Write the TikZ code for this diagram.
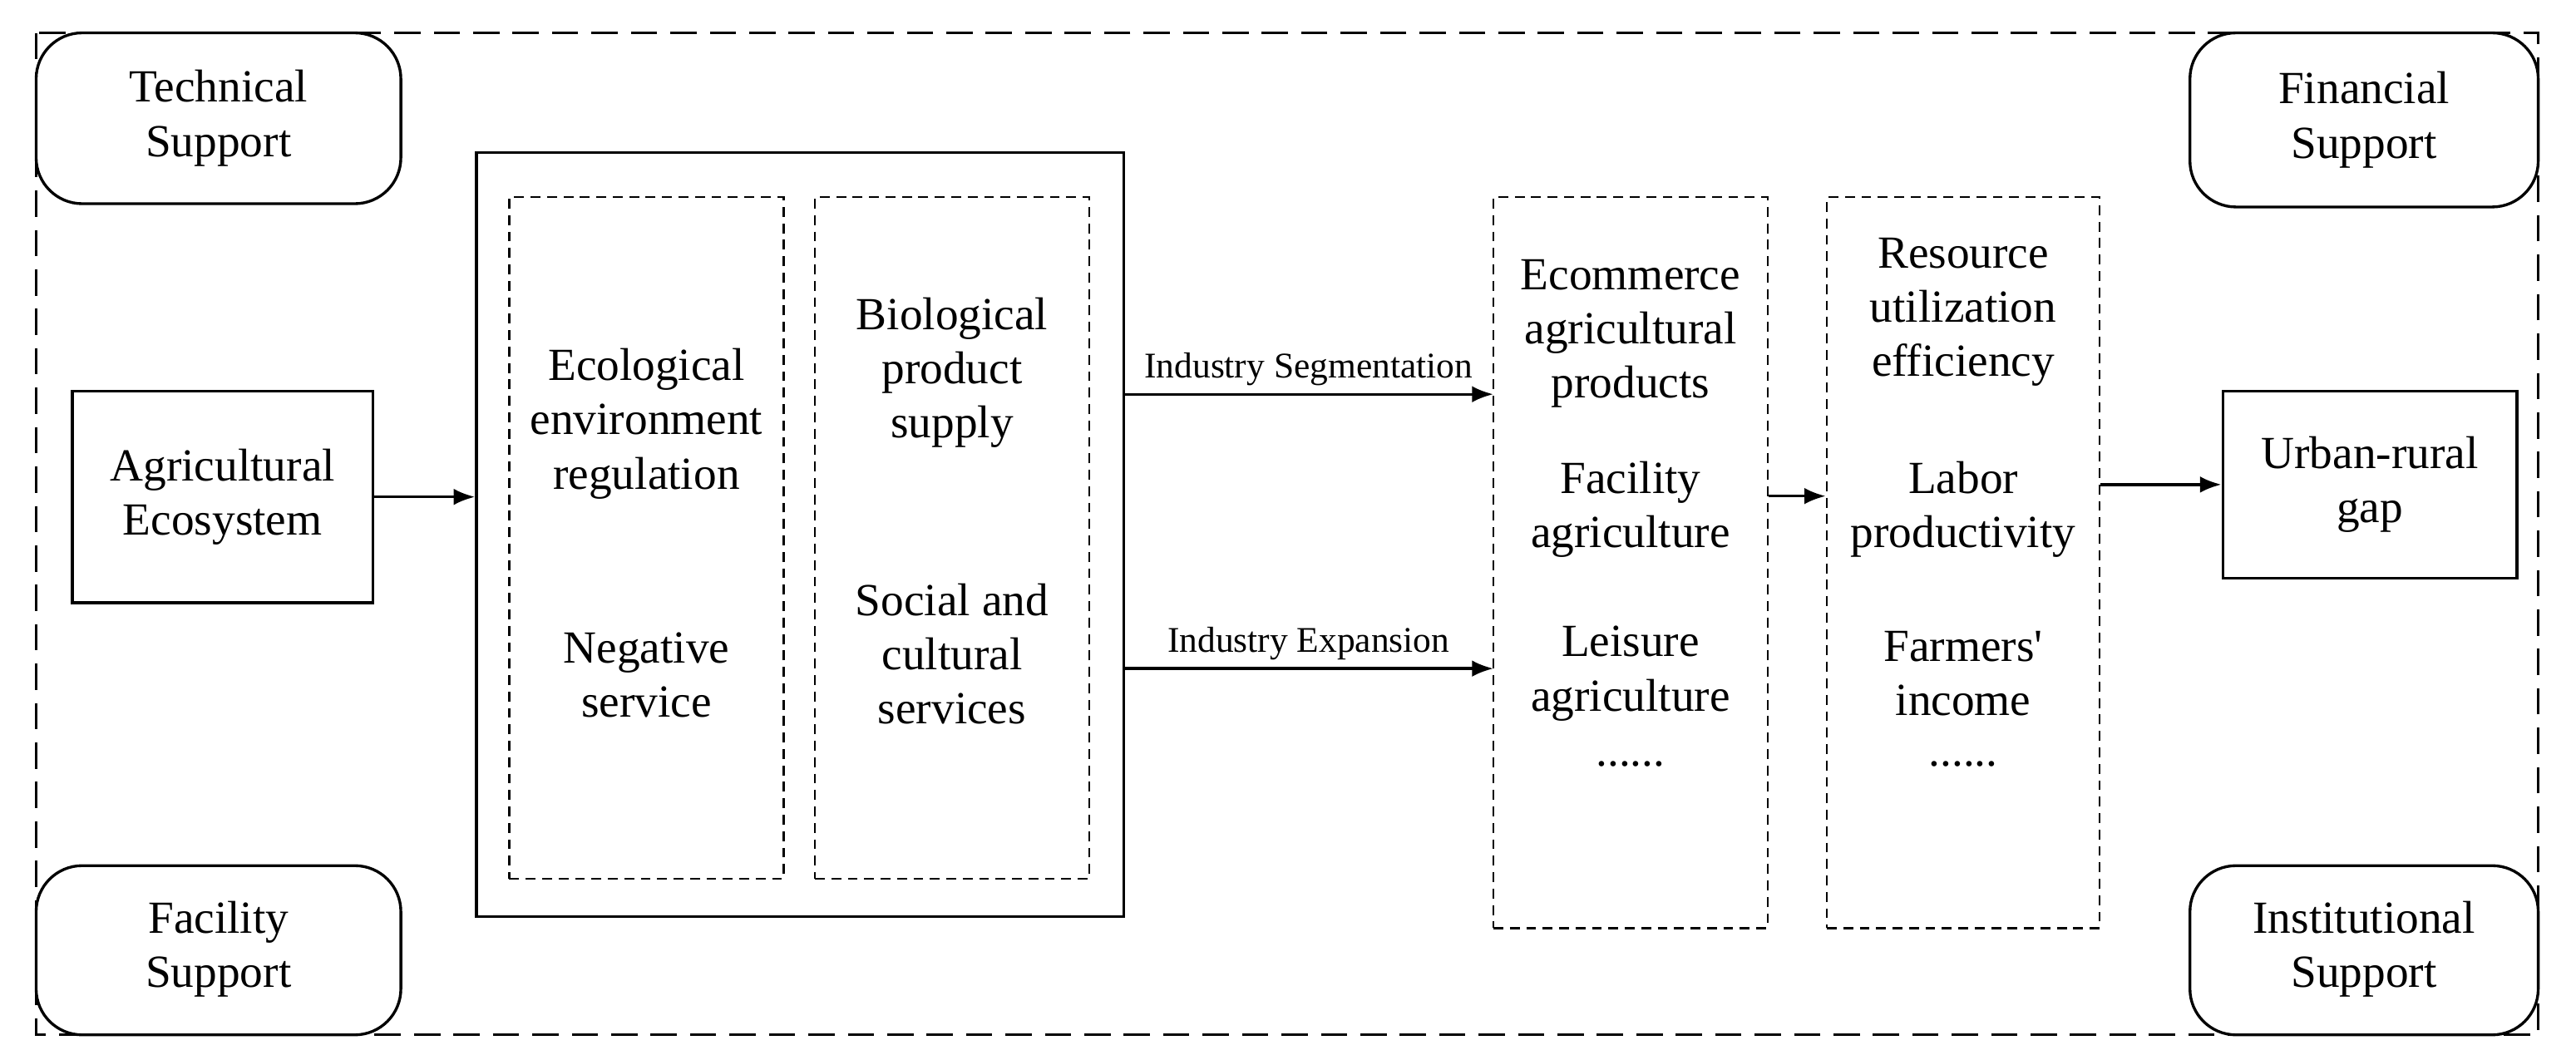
\documentclass[tikz,border=0pt]{standalone}
\usepackage{fontspec}
\setmainfont{Liberation Serif}
\usetikzlibrary{arrows.meta}
\begin{document}
\begin{tikzpicture}[x=1pt,y=-1pt,
  txt/.style={font=\fontsize{28}{33}\selectfont,align=center},
  sup/.style={draw,line width=1.7pt,rounded corners=28pt,fill=white},
  solidbox/.style={draw,line width=1.7pt},
  dbox/.style={draw,line width=1.4pt,dash pattern=on 6pt off 4pt},
  arr/.style={-{Latex[length=13pt,width=10pt]},line width=1.7pt},
  lab/.style={font=\fontsize{22}{26}\selectfont}]
\useasboundingbox (0,0) rectangle (1568,645);
\draw[line width=1.6pt,dash pattern=on 16pt off 8pt] (22,20) rectangle (1545,630);
\draw[sup] (22,20) rectangle (244,124);
\node[txt] (ts) at (133,72) {Technical\\Support};
\draw[sup] (1333,20) rectangle (1545,126);
\node[txt] (fs) at (1439,73) {Financial\\Support};
\draw[sup] (22,527) rectangle (244,630);
\node[txt] (fa) at (133,578) {Facility\\Support};
\draw[sup] (1333,527) rectangle (1545,630);
\node[txt] (is) at (1439,578) {Institutional\\Support};

\node[solidbox,txt,minimum width=183pt,minimum height=129pt] (ae) at (135.5,302.5) {Agricultural\\Ecosystem};
\node[solidbox,minimum width=394pt,minimum height=465pt] (big) at (487,325.5) {};
\node[dbox,minimum width=167pt,minimum height=415pt] (c1) at (393.5,327.5) {};
\node[dbox,minimum width=167pt,minimum height=415pt] (c2) at (579.5,327.5) {};
\node[txt] at (393.5,258) {Ecological\\environment\\regulation};
\node[txt] at (393.5,411) {Negative\\service};
\node[txt] at (579.5,227) {Biological\\product\\supply};
\node[txt] at (579.5,398) {Social and\\cultural\\services};
\node[dbox,minimum width=167pt,minimum height=445pt] (c3) at (992.5,342.5) {};
\node[dbox,minimum width=166pt,minimum height=445pt] (c4) at (1195,342.5) {};
\node[txt] at (992.5,203) {Ecommerce\\agricultural\\products};
\node[txt] at (992.5,310) {Facility\\agriculture};
\node[txt] at (992.5,410) {Leisure\\agriculture};
\node[txt] at (992.5,465) {......};
\node[txt] at (1195,190) {Resource\\utilization\\efficiency};
\node[txt] at (1195,310) {Labor\\productivity};
\node[txt] at (1195,410) {Farmers\textquotesingle\\income};
\node[txt] at (1195,465) {......};
\node[solidbox,txt,minimum width=179pt,minimum height=114pt] (ur) at (1442.5,295) {Urban-rural\\gap};

\draw[arr] (ae.east) -- (big.west |- ae.east);
\coordinate (s1) at (684,240); \coordinate (e1) at (909,240);
\draw[arr] (s1) -- node[lab,above=1pt]{Industry Segmentation} (e1);
\coordinate (s2) at (684,407); \coordinate (e2) at (909,407);
\draw[arr] (s2) -- node[lab,above=1pt]{Industry Expansion} (e2);
\draw[arr] (c3.east |- 0,302) -- (c4.west |- 0,302);
\draw[arr] (c4.east |- ur.west) -- (ur.west);
\end{tikzpicture}
\end{document}
